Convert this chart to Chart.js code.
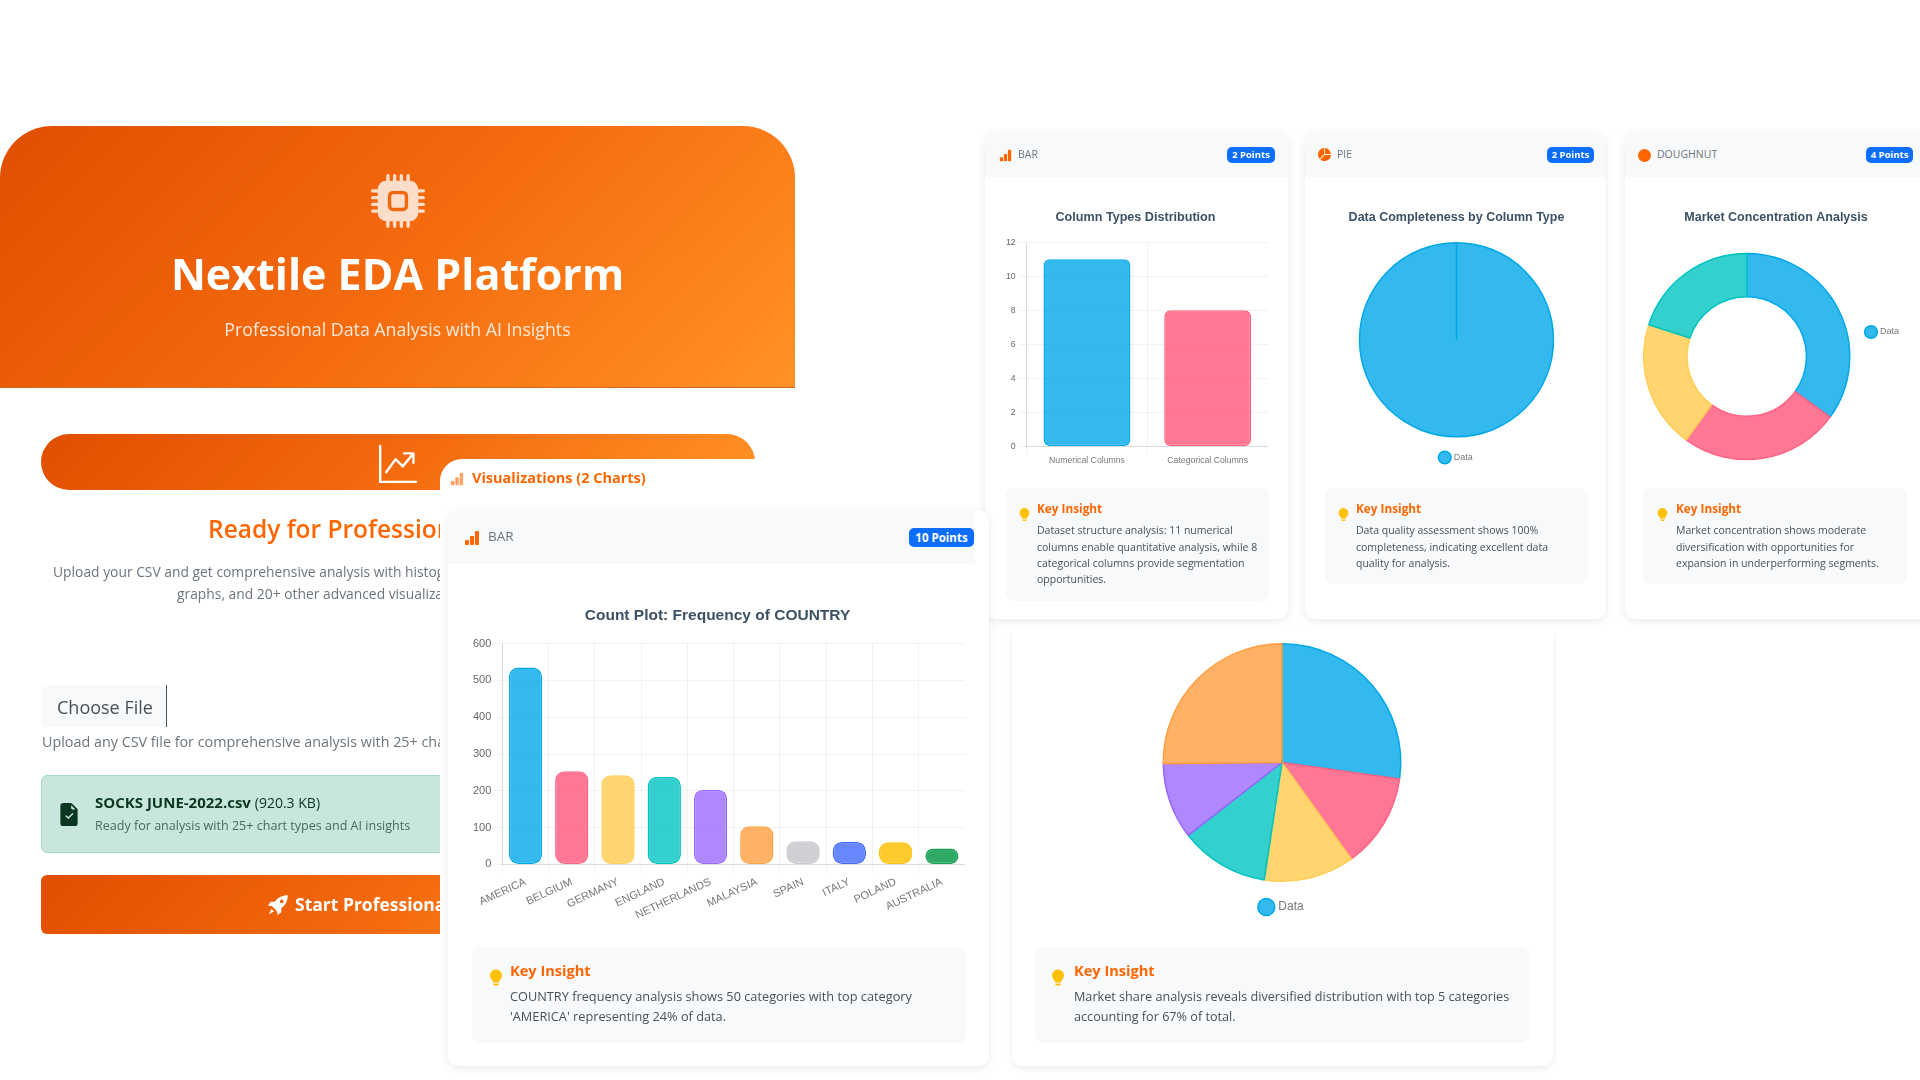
<!DOCTYPE html>
<html>
<head>
<meta charset="utf-8">
<title>Nextile EDA Platform</title>
<script src="https://cdn.jsdelivr.net/npm/chart.js@4"></script>
<style>
  html, body { margin: 0; width: 1920px; height: 1080px; overflow: hidden; background: #fff; font-family: "Open Sans", sans-serif; }
  #page { position: absolute; left: 0; top: 0; width: 1920px; height: 1080px; overflow: hidden; filter: blur(.3px); }
  .abs, canvas, svg { position: absolute; }
  .t { position: absolute; white-space: nowrap; line-height: 1; }
  .grad { background: linear-gradient(135deg, #e04e00 0%, #f46a0e 50%, #ff8a20 90%, #ff9226 100%); }
  .card { position: absolute; background: #fff; border-radius: 10px; box-shadow: 0 2px 8px rgba(0,0,0,.09); }
  .head { position: absolute; background: #f8f9fa; border-radius: 10px 10px 0 0; }
  .badge { position: absolute; background: #0d6efd; color: #fff; font-weight: 700; text-align: center; border-radius: 5px; }
  .box { position: absolute; background: #f8f9fa; border-radius: 8px; }
  .key { color: #ff6600; font-weight: 700; }
  .body { color: #495057; }
</style>
</head>
<body>
<div id="page">
<svg width="0" height="0">
  <defs>
    <symbol id="i-bar" viewBox="0 0 16 16"><path d="M1 11a1 1 0 0 1 1-1h2a1 1 0 0 1 1 1v3a1 1 0 0 1-1 1H2a1 1 0 0 1-1-1v-3zm5-4a1 1 0 0 1 1-1h2a1 1 0 0 1 1 1v7a1 1 0 0 1-1 1H7a1 1 0 0 1-1-1V7zm5-5a1 1 0 0 1 1-1h2a1 1 0 0 1 1 1v12a1 1 0 0 1-1 1h-2a1 1 0 0 1-1-1V2z"/></symbol>
    <symbol id="i-pie" viewBox="0 0 16 16"><path d="M15.985 8.5H8.207l-5.5 5.5a8 8 0 0 0 13.277-5.5zM2 13.292A8 8 0 0 1 7.5.015v7.778l-5.5 5.5zM8.5.015V7.5h7.485A8.001 8.001 0 0 0 8.5.015z"/></symbol>
    <symbol id="i-bulb" viewBox="0 0 16 16"><path d="M2 6a6 6 0 1 1 10.174 4.31c-.203.196-.359.4-.453.619l-.762 1.769A.5.5 0 0 1 10.5 13h-5a.5.5 0 0 1-.46-.302l-.761-1.77a1.964 1.964 0 0 0-.453-.618A5.984 5.984 0 0 1 2 6zm3 8.5a.5.5 0 0 1 .5-.5h5a.5.5 0 0 1 0 1l-.224.447a1 1 0 0 1-.894.553H6.618a1 1 0 0 1-.894-.553L5.5 15a.5.5 0 0 1-.5-.5z"/></symbol>
  </defs>
</svg>

<!-- header -->
<div class="abs grad" style="left:0;top:126px;width:795px;height:262px;border-radius:52px 52px 0 0;border-bottom:1px solid #d9691f;box-sizing:border-box"></div>
<svg style="left:371px;top:174px" width="54" height="54" viewBox="0 0 16 16" fill="#fff" fill-opacity=".78">
  <path d="M6.5 6a.5.5 0 0 0-.5.5v3a.5.5 0 0 0 .5.5h3a.5.5 0 0 0 .5-.5v-3a.5.5 0 0 0-.5-.5h-3z"/>
  <path d="M5.5.5a.5.5 0 0 0-1 0V2A2.5 2.5 0 0 0 2 4.5H.5a.5.5 0 0 0 0 1H2v1H.5a.5.5 0 0 0 0 1H2v1H.5a.5.5 0 0 0 0 1H2v1H.5a.5.5 0 0 0 0 1H2A2.5 2.5 0 0 0 4.5 14v1.5a.5.5 0 0 0 1 0V14h1v1.5a.5.5 0 0 0 1 0V14h1v1.5a.5.5 0 0 0 1 0V14h1v1.5a.5.5 0 0 0 1 0V14a2.5 2.5 0 0 0 2.5-2.5h1.5a.5.5 0 0 0 0-1H14v-1h1.5a.5.5 0 0 0 0-1H14v-1h1.5a.5.5 0 0 0 0-1H14v-1h1.5a.5.5 0 0 0 0-1H14A2.5 2.5 0 0 0 11.5 2V.5a.5.5 0 0 0-1 0V2h-1V.5a.5.5 0 0 0-1 0V2h-1V.5a.5.5 0 0 0-1 0V2h-1V.5zm1 4.5h3A1.5 1.5 0 0 1 11 6.5v3A1.5 1.5 0 0 1 9.5 11h-3A1.5 1.5 0 0 1 5 9.5v-3A1.5 1.5 0 0 1 6.5 5z"/>
</svg>
<div class="t" style="left:0;width:795px;text-align:center;top:252px;font-size:43px;font-weight:700;color:#fff">Nextile EDA Platform</div>
<div class="t" style="left:0;width:795px;text-align:center;top:321px;font-size:17.75px;color:#ffe9da">Professional Data Analysis with AI Insights</div>

<!-- second bar -->
<div class="abs grad" style="left:41px;top:434px;width:714px;height:56px;border-radius:28px 28px 0 28px"></div>
<svg style="left:379px;top:445px" width="38" height="38" viewBox="0 0 16 16" fill="#fff"><path d="M0 0h1v15h15v1H0V0Zm10 3.5a.5.5 0 0 1 .5-.5h4a.5.5 0 0 1 .5.5v4a.5.5 0 0 1-1 0V4.9l-3.613 4.417a.5.5 0 0 1-.74.037L7.06 6.767l-3.656 5.027a.5.5 0 0 1-.808-.588l4-5.5a.5.5 0 0 1 .758-.06l2.609 2.61L13.445 4H10.5a.5.5 0 0 1-.5-.5Z"/></svg>

<!-- left column, cut off at x=440 -->
<div class="abs" style="left:0;top:500px;width:440px;height:450px;overflow:hidden">
  <div class="t" style="left:208px;top:17px;font-size:24.5px;font-weight:600;color:#ff6600">Ready for Professional Analysis</div>
  <div class="t" style="left:53px;top:65px;font-size:13.85px;color:#6c757d">Upload your CSV and get comprehensive analysis with histograms, box plots, network</div>
  <div class="t" style="left:177px;top:87px;font-size:13.85px;color:#6c757d">graphs, and 20+ other advanced visualizations</div>
  <div class="abs" style="left:41px;top:185px;width:125px;height:42px;background:#f8f9fa;border-right:1.5px solid #495057"></div>
  <div class="t" style="left:57px;top:198px;font-size:18px;color:#495057">Choose File</div>
  <div class="t" style="left:42px;top:235px;font-size:14.35px;color:#6c757d">Upload any CSV file for comprehensive analysis with 25+ chart types</div>
  <div class="abs" style="left:41px;top:275px;width:500px;height:78px;background:#c9e6dc;border:1px solid #a3d9c6;border-radius:6px;box-sizing:border-box"></div>
  <svg style="left:60px;top:303px" width="18" height="23" viewBox="2 0 12 16" fill="#0a3622"><path d="M9.293 0H4a2 2 0 0 0-2 2v12a2 2 0 0 0 2 2h8a2 2 0 0 0 2-2V4.707A1 1 0 0 0 13.707 4L10 .293A1 1 0 0 0 9.293 0zM9.5 3.5v-2l3 3h-2a1 1 0 0 1-1-1zm1.354 4.354-3 3a.5.5 0 0 1-.708 0l-1.5-1.5a.5.5 0 1 1 .708-.708L7.5 9.793l2.646-2.647a.5.5 0 0 1 .708.708z"/></svg>
  <div class="t" style="left:95px;top:295px;font-size:15px;color:#0a3622"><b>SOCKS JUNE-2022.csv</b> <span style="font-size:14px">(920.3 KB)</span></div>
  <div class="t" style="left:95px;top:320px;font-size:12.55px;color:#4a6a5d">Ready for analysis with 25+ chart types and AI insights</div>
  <div class="abs grad" style="left:41px;top:375px;width:700px;height:59px;border-radius:6px"></div>
  <svg style="left:268px;top:395px" width="20" height="20" viewBox="0 0 16 16" fill="#fff"><path d="M15.8.2C11.5.2 7.8 2 5.4 5.4H2.2L0 8.3l3.3.6L7.1 12.7l.6 3.3 2.9-2.2v-3.2c3.4-2.4 5.2-6.1 5.2-10.4zM11 6.6a1.5 1.5 0 1 1 0-3 1.5 1.5 0 0 1 0 3zM2.8 11.2 0.6 15.4l4.2-2.2z"/></svg>
  <div class="t" style="left:295px;top:396px;font-size:17.5px;font-weight:700;color:#fff">Start Professional Analysis</div>
</div>

<!-- white panel over the orange bar -->
<div class="abs" style="left:440px;top:459px;width:550px;height:621px;background:#fff;border-radius:22px 0 0 0"></div>
<svg style="left:450px;top:472px;opacity:.6" width="14" height="14" fill="#ff6600"><use href="#i-bar"/></svg>
<div class="t key" style="left:472px;top:471px;font-size:14.5px">Visualizations (2 Charts)</div>

<!-- small bar card -->
<div class="card" style="left:985px;top:133px;width:303px;height:486px"></div>
<div class="head" style="left:985px;top:133px;width:303px;height:44px"></div>
<svg style="left:999px;top:149px" width="13" height="13" fill="#ff6600"><use href="#i-bar"/></svg>
<div class="t" style="left:1018px;top:149px;font-size:10.5px;color:#6c757d">BAR</div>
<div class="badge" style="left:1227px;top:147px;width:48px;height:16px;font-size:9.5px;line-height:16px">2 Points</div>
<canvas id="smallBar" width="265" height="277" style="left:1003px;top:190px"></canvas>
<div class="box" style="left:1006px;top:488px;width:263px;height:113px"></div>
<svg style="left:1018px;top:507px" width="13" height="15" fill="#ffc107"><use href="#i-bulb"/></svg>
<div class="t key" style="left:1037px;top:503px;font-size:11.8px">Key Insight</div>
<div class="t body" style="left:1037px;top:525px;font-size:10.5px">Dataset structure analysis: 11 numerical</div>
<div class="t body" style="left:1037px;top:542px;font-size:10.5px">columns enable quantitative analysis, while 8</div>
<div class="t body" style="left:1037px;top:558px;font-size:10.5px">categorical columns provide segmentation</div>
<div class="t body" style="left:1037px;top:574px;font-size:10.5px">opportunities.</div>

<!-- small pie card -->
<div class="card" style="left:1305px;top:133px;width:301px;height:486px"></div>
<div class="head" style="left:1305px;top:133px;width:301px;height:44px"></div>
<svg style="left:1318px;top:148px" width="13" height="13" fill="#ff6600"><use href="#i-pie"/></svg>
<div class="t" style="left:1337px;top:149px;font-size:10.5px;color:#6c757d">PIE</div>
<div class="badge" style="left:1547px;top:147px;width:47px;height:16px;font-size:9.5px;line-height:16px">2 Points</div>
<canvas id="smallPie" width="263" height="282" style="left:1325px;top:190px"></canvas>
<div class="box" style="left:1325px;top:488px;width:263px;height:96px"></div>
<svg style="left:1337px;top:507px" width="13" height="15" fill="#ffc107"><use href="#i-bulb"/></svg>
<div class="t key" style="left:1356px;top:503px;font-size:11.8px">Key Insight</div>
<div class="t body" style="left:1356px;top:525px;font-size:10.5px">Data quality assessment shows 100%</div>
<div class="t body" style="left:1356px;top:542px;font-size:10.5px">completeness, indicating excellent data</div>
<div class="t body" style="left:1356px;top:558px;font-size:10.5px">quality for analysis.</div>

<!-- small doughnut card -->
<div class="card" style="left:1625px;top:133px;width:320px;height:486px"></div>
<div class="head" style="left:1625px;top:133px;width:295px;height:44px;border-radius:10px 0 0 0"></div>
<div class="abs" style="left:1638px;top:149px;width:13px;height:13px;border-radius:50%;background:#ff6600"></div>
<div class="t" style="left:1657px;top:149px;font-size:10.5px;color:#6c757d">DOUGHNUT</div>
<div class="badge" style="left:1866px;top:147px;width:47px;height:16px;font-size:9.5px;line-height:16px">4 Points</div>
<canvas id="smallDoughnut" width="266" height="284" style="left:1643px;top:190px"></canvas>
<div class="box" style="left:1643px;top:488px;width:264px;height:96px"></div>
<svg style="left:1656px;top:507px" width="13" height="15" fill="#ffc107"><use href="#i-bulb"/></svg>
<div class="t key" style="left:1676px;top:503px;font-size:11.8px">Key Insight</div>
<div class="t body" style="left:1676px;top:525px;font-size:10.5px">Market concentration shows moderate</div>
<div class="t body" style="left:1676px;top:542px;font-size:10.5px">diversification with opportunities for</div>
<div class="t body" style="left:1676px;top:558px;font-size:10.5px">expansion in underperforming segments.</div>

<!-- main bar card -->
<div class="card" style="left:448px;top:510px;width:541px;height:556px"></div>
<div class="head" style="left:448px;top:510px;width:527px;height:54px;border-radius:10px 0 0 0"></div>
<svg style="left:464px;top:530px" width="16" height="16" fill="#ff6600"><use href="#i-bar"/></svg>
<div class="t" style="left:488px;top:530px;font-size:13.5px;color:#6c757d">BAR</div>
<div class="badge" style="left:909px;top:528px;width:65px;height:19px;font-size:11.5px;line-height:19px">10 Points</div>
<canvas id="mainBar" width="495" height="345" style="left:470px;top:580px"></canvas>
<div class="box" style="left:472px;top:947px;width:494px;height:96px"></div>
<svg style="left:488px;top:968px" width="16" height="19" fill="#ffc107"><use href="#i-bulb"/></svg>
<div class="t key" style="left:510px;top:963px;font-size:14.6px">Key Insight</div>
<div class="t body" style="left:510px;top:990px;font-size:12.75px">COUNTRY frequency analysis shows 50 categories with top category</div>
<div class="t body" style="left:510px;top:1010px;font-size:12.75px">'AMERICA' representing 24% of data.</div>

<!-- main pie card -->
<div class="card" style="left:1012px;top:630px;width:541px;height:436px;border-radius:0 0 10px 10px;box-shadow:0 3px 6px rgba(0,0,0,.07)"></div>
<canvas id="mainPie" width="494" height="293" style="left:1035px;top:630px"></canvas>
<div class="box" style="left:1035px;top:947px;width:494px;height:96px"></div>
<svg style="left:1050px;top:968px" width="16" height="19" fill="#ffc107"><use href="#i-bulb"/></svg>
<div class="t key" style="left:1074px;top:963px;font-size:14.6px">Key Insight</div>
<div class="t body" style="left:1074px;top:990px;font-size:12.65px">Market share analysis reveals diversified distribution with top 5 categories</div>
<div class="t body" style="left:1074px;top:1010px;font-size:12.65px">accounting for 67% of total.</div>
</div>

<script>
const countryLabels = ["AMERICA", "BELGIUM", "GERMANY", "ENGLAND", "NETHERLANDS", "MALAYSIA", "SPAIN", "ITALY", "POLAND", "AUSTRALIA"];
const countryCounts = [535, 253, 242, 238, 203, 104, 63, 61, 60, 43];
const columnLabels = ["Numerical Columns", "Categorical Columns"];
const columnCounts = [11, 8];
const completenessValues = [100, 0];
const concentrationValues = [35, 25, 20, 20];
const shareValues = [535, 253, 242, 238, 203, 495];
const legendLabels = ["Data"];
const fillColors = ["rgba(0,168,232,.8)", "rgba(255,99,132,.87)", "rgba(255,206,86,.85)", "rgba(0,196,192,.8)", "rgba(153,102,255,.78)", "rgba(255,159,64,.8)", "rgba(201,203,207,.9)", "rgba(65,105,255,.8)", "rgba(255,193,7,.85)", "rgba(25,160,85,.9)"];
const lineColors = ["#00a8e8", "#ff6384", "#ffce56", "#00c4c0", "#9966ff", "#ff9f40", "#c9cbcf", "#4169ff", "#ffc107", "#19a055"];

Chart.defaults.font.family = "'Liberation Sans', Arial, sans-serif";
Chart.defaults.animation = false;

function titleOptions(text, size, top, bottom) {
  return {
    display: text !== "",
    text: text,
    color: "#3d5166",
    font: { size: size, weight: "bold" },
    padding: { top: top, bottom: bottom }
  };
}

function createBar(id, labels, values, size, titleText, titleSize, top, bottom, rotation, radius, tickGap) {
  return new Chart(document.getElementById(id), {
    type: "bar",
    data: {
      labels: labels,
      datasets: [{ label: "Data", data: values, backgroundColor: fillColors, borderColor: lineColors, borderWidth: 1.5, borderRadius: radius, borderSkipped: false }]
    },
    options: {
      responsive: false,
      plugins: { legend: { display: false }, title: titleOptions(titleText, titleSize, top, bottom) },
      scales: {
        x: { grid: { color: "rgba(0,0,0,.05)" }, ticks: { font: { size: size }, color: "#777", minRotation: rotation, maxRotation: rotation, padding: tickGap } },
        y: { beginAtZero: true, grid: { color: "rgba(0,0,0,.05)" }, ticks: { font: { size: size }, color: "#666" } }
      }
    }
  });
}

function createRound(id, type, values, size, titleText, titleSize, top, bottom, legendPos, legendGap, padTop) {
  return new Chart(document.getElementById(id), {
    type: type,
    data: {
      labels: legendLabels,
      datasets: [{ label: "Data", data: values, backgroundColor: fillColors, borderColor: lineColors, borderWidth: 1.5 }]
    },
    options: {
      responsive: false,
      cutout: type === "doughnut" ? "58%" : 0,
      layout: { padding: { top: padTop } },
      plugins: {
        title: titleOptions(titleText, titleSize, top, bottom),
        legend: { position: legendPos, labels: { usePointStyle: true, padding: legendGap, color: "#777", font: { size: size } } }
      }
    }
  });
}

createBar("mainBar", countryLabels, countryCounts, 11, "Count Plot: Frequency of COUNTRY", 15.5, 26, 19, 25, 9, 3);
createBar("smallBar", columnLabels, columnCounts, 8.7, "Column Types Distribution", 12.6, 20, 17, 0, 6, 1);
createRound("smallPie", "pie", completenessValues, 9, "Data Completeness by Column Type", 12.5, 20, 17, "bottom", 15.5, 0);
createRound("smallDoughnut", "doughnut", concentrationValues, 9, "Market Concentration Analysis", 12.5, 20, 14, "right", 16, 0);
createRound("mainPie", "pie", shareValues, 12, "", 16, 0, 0, "bottom", 19, 13);
</script>
</body>
</html>
